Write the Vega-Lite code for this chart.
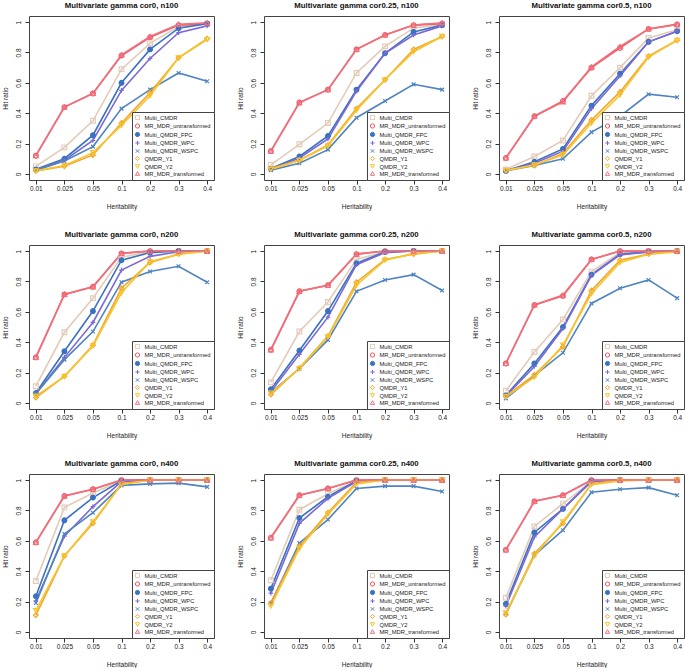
{
"$schema": "https://vega.github.io/schema/vega-lite/v6.json",
"padding": {"left": 1, "top": 1, "right": 0, "bottom": 0},
"datasets": {"d": [
{"p":1,"s":"Multi_CMDR","h":"0.01","v":0.05},{"p":1,"s":"Multi_CMDR","h":"0.025","v":0.175},{"p":1,"s":"Multi_CMDR","h":"0.05","v":0.35},{"p":1,"s":"Multi_CMDR","h":"0.1","v":0.69},{"p":1,"s":"Multi_CMDR","h":"0.2","v":0.86},{"p":1,"s":"Multi_CMDR","h":"0.3","v":0.97},{"p":1,"s":"Multi_CMDR","h":"0.4","v":0.99},
{"p":1,"s":"MR_MDR_untransformed","h":"0.01","v":0.12},{"p":1,"s":"MR_MDR_untransformed","h":"0.025","v":0.44},{"p":1,"s":"MR_MDR_untransformed","h":"0.05","v":0.53},{"p":1,"s":"MR_MDR_untransformed","h":"0.1","v":0.78},{"p":1,"s":"MR_MDR_untransformed","h":"0.2","v":0.9},{"p":1,"s":"MR_MDR_untransformed","h":"0.3","v":0.98},{"p":1,"s":"MR_MDR_untransformed","h":"0.4","v":0.99},
{"p":1,"s":"Multi_QMDR_FPC","h":"0.01","v":0.03},{"p":1,"s":"Multi_QMDR_FPC","h":"0.025","v":0.1},{"p":1,"s":"Multi_QMDR_FPC","h":"0.05","v":0.255},{"p":1,"s":"Multi_QMDR_FPC","h":"0.1","v":0.6},{"p":1,"s":"Multi_QMDR_FPC","h":"0.2","v":0.82},{"p":1,"s":"Multi_QMDR_FPC","h":"0.3","v":0.96},{"p":1,"s":"Multi_QMDR_FPC","h":"0.4","v":0.99},
{"p":1,"s":"Multi_QMDR_WPC","h":"0.01","v":0.025},{"p":1,"s":"Multi_QMDR_WPC","h":"0.025","v":0.09},{"p":1,"s":"Multi_QMDR_WPC","h":"0.05","v":0.22},{"p":1,"s":"Multi_QMDR_WPC","h":"0.1","v":0.55},{"p":1,"s":"Multi_QMDR_WPC","h":"0.2","v":0.76},{"p":1,"s":"Multi_QMDR_WPC","h":"0.3","v":0.93},{"p":1,"s":"Multi_QMDR_WPC","h":"0.4","v":0.975},
{"p":1,"s":"Multi_QMDR_WSPC","h":"0.01","v":0.025},{"p":1,"s":"Multi_QMDR_WSPC","h":"0.025","v":0.085},{"p":1,"s":"Multi_QMDR_WSPC","h":"0.05","v":0.18},{"p":1,"s":"Multi_QMDR_WSPC","h":"0.1","v":0.43},{"p":1,"s":"Multi_QMDR_WSPC","h":"0.2","v":0.555},{"p":1,"s":"Multi_QMDR_WSPC","h":"0.3","v":0.665},{"p":1,"s":"Multi_QMDR_WSPC","h":"0.4","v":0.61},
{"p":1,"s":"QMDR_Y1","h":"0.01","v":0.02},{"p":1,"s":"QMDR_Y1","h":"0.025","v":0.05},{"p":1,"s":"QMDR_Y1","h":"0.05","v":0.125},{"p":1,"s":"QMDR_Y1","h":"0.1","v":0.335},{"p":1,"s":"QMDR_Y1","h":"0.2","v":0.535},{"p":1,"s":"QMDR_Y1","h":"0.3","v":0.765},{"p":1,"s":"QMDR_Y1","h":"0.4","v":0.89},
{"p":1,"s":"QMDR_Y2","h":"0.01","v":0.02},{"p":1,"s":"QMDR_Y2","h":"0.025","v":0.055},{"p":1,"s":"QMDR_Y2","h":"0.05","v":0.14},{"p":1,"s":"QMDR_Y2","h":"0.1","v":0.32},{"p":1,"s":"QMDR_Y2","h":"0.2","v":0.515},{"p":1,"s":"QMDR_Y2","h":"0.3","v":0.765},{"p":1,"s":"QMDR_Y2","h":"0.4","v":0.885},
{"p":1,"s":"MR_MDR_transformed","h":"0.01","v":0.12},{"p":1,"s":"MR_MDR_transformed","h":"0.025","v":0.44},{"p":1,"s":"MR_MDR_transformed","h":"0.05","v":0.53},{"p":1,"s":"MR_MDR_transformed","h":"0.1","v":0.785},{"p":1,"s":"MR_MDR_transformed","h":"0.2","v":0.905},{"p":1,"s":"MR_MDR_transformed","h":"0.3","v":0.985},{"p":1,"s":"MR_MDR_transformed","h":"0.4","v":0.995},

{"p":2,"s":"Multi_CMDR","h":"0.01","v":0.06},{"p":2,"s":"Multi_CMDR","h":"0.025","v":0.195},{"p":2,"s":"Multi_CMDR","h":"0.05","v":0.335},{"p":2,"s":"Multi_CMDR","h":"0.1","v":0.665},{"p":2,"s":"Multi_CMDR","h":"0.2","v":0.84},{"p":2,"s":"Multi_CMDR","h":"0.3","v":0.96},{"p":2,"s":"Multi_CMDR","h":"0.4","v":0.985},
{"p":2,"s":"MR_MDR_untransformed","h":"0.01","v":0.15},{"p":2,"s":"MR_MDR_untransformed","h":"0.025","v":0.47},{"p":2,"s":"MR_MDR_untransformed","h":"0.05","v":0.555},{"p":2,"s":"MR_MDR_untransformed","h":"0.1","v":0.82},{"p":2,"s":"MR_MDR_untransformed","h":"0.2","v":0.915},{"p":2,"s":"MR_MDR_untransformed","h":"0.3","v":0.98},{"p":2,"s":"MR_MDR_untransformed","h":"0.4","v":0.99},
{"p":2,"s":"Multi_QMDR_FPC","h":"0.01","v":0.035},{"p":2,"s":"Multi_QMDR_FPC","h":"0.025","v":0.115},{"p":2,"s":"Multi_QMDR_FPC","h":"0.05","v":0.25},{"p":2,"s":"Multi_QMDR_FPC","h":"0.1","v":0.555},{"p":2,"s":"Multi_QMDR_FPC","h":"0.2","v":0.795},{"p":2,"s":"Multi_QMDR_FPC","h":"0.3","v":0.935},{"p":2,"s":"Multi_QMDR_FPC","h":"0.4","v":0.98},
{"p":2,"s":"Multi_QMDR_WPC","h":"0.01","v":0.03},{"p":2,"s":"Multi_QMDR_WPC","h":"0.025","v":0.105},{"p":2,"s":"Multi_QMDR_WPC","h":"0.05","v":0.23},{"p":2,"s":"Multi_QMDR_WPC","h":"0.1","v":0.545},{"p":2,"s":"Multi_QMDR_WPC","h":"0.2","v":0.795},{"p":2,"s":"Multi_QMDR_WPC","h":"0.3","v":0.915},{"p":2,"s":"Multi_QMDR_WPC","h":"0.4","v":0.975},
{"p":2,"s":"Multi_QMDR_WSPC","h":"0.01","v":0.025},{"p":2,"s":"Multi_QMDR_WSPC","h":"0.025","v":0.07},{"p":2,"s":"Multi_QMDR_WSPC","h":"0.05","v":0.16},{"p":2,"s":"Multi_QMDR_WSPC","h":"0.1","v":0.37},{"p":2,"s":"Multi_QMDR_WSPC","h":"0.2","v":0.48},{"p":2,"s":"Multi_QMDR_WSPC","h":"0.3","v":0.59},{"p":2,"s":"Multi_QMDR_WSPC","h":"0.4","v":0.555},
{"p":2,"s":"QMDR_Y1","h":"0.01","v":0.035},{"p":2,"s":"QMDR_Y1","h":"0.025","v":0.09},{"p":2,"s":"QMDR_Y1","h":"0.05","v":0.19},{"p":2,"s":"QMDR_Y1","h":"0.1","v":0.43},{"p":2,"s":"QMDR_Y1","h":"0.2","v":0.62},{"p":2,"s":"QMDR_Y1","h":"0.3","v":0.82},{"p":2,"s":"QMDR_Y1","h":"0.4","v":0.905},
{"p":2,"s":"QMDR_Y2","h":"0.01","v":0.03},{"p":2,"s":"QMDR_Y2","h":"0.025","v":0.09},{"p":2,"s":"QMDR_Y2","h":"0.05","v":0.185},{"p":2,"s":"QMDR_Y2","h":"0.1","v":0.42},{"p":2,"s":"QMDR_Y2","h":"0.2","v":0.62},{"p":2,"s":"QMDR_Y2","h":"0.3","v":0.805},{"p":2,"s":"QMDR_Y2","h":"0.4","v":0.905},
{"p":2,"s":"MR_MDR_transformed","h":"0.01","v":0.15},{"p":2,"s":"MR_MDR_transformed","h":"0.025","v":0.47},{"p":2,"s":"MR_MDR_transformed","h":"0.05","v":0.555},{"p":2,"s":"MR_MDR_transformed","h":"0.1","v":0.82},{"p":2,"s":"MR_MDR_transformed","h":"0.2","v":0.915},{"p":2,"s":"MR_MDR_transformed","h":"0.3","v":0.98},{"p":2,"s":"MR_MDR_transformed","h":"0.4","v":0.995},

{"p":3,"s":"Multi_CMDR","h":"0.01","v":0.03},{"p":3,"s":"Multi_CMDR","h":"0.025","v":0.115},{"p":3,"s":"Multi_CMDR","h":"0.05","v":0.22},{"p":3,"s":"Multi_CMDR","h":"0.1","v":0.515},{"p":3,"s":"Multi_CMDR","h":"0.2","v":0.7},{"p":3,"s":"Multi_CMDR","h":"0.3","v":0.895},{"p":3,"s":"Multi_CMDR","h":"0.4","v":0.95},
{"p":3,"s":"MR_MDR_untransformed","h":"0.01","v":0.105},{"p":3,"s":"MR_MDR_untransformed","h":"0.025","v":0.38},{"p":3,"s":"MR_MDR_untransformed","h":"0.05","v":0.48},{"p":3,"s":"MR_MDR_untransformed","h":"0.1","v":0.7},{"p":3,"s":"MR_MDR_untransformed","h":"0.2","v":0.83},{"p":3,"s":"MR_MDR_untransformed","h":"0.3","v":0.955},{"p":3,"s":"MR_MDR_untransformed","h":"0.4","v":0.985},
{"p":3,"s":"Multi_QMDR_FPC","h":"0.01","v":0.02},{"p":3,"s":"Multi_QMDR_FPC","h":"0.025","v":0.08},{"p":3,"s":"Multi_QMDR_FPC","h":"0.05","v":0.165},{"p":3,"s":"Multi_QMDR_FPC","h":"0.1","v":0.45},{"p":3,"s":"Multi_QMDR_FPC","h":"0.2","v":0.66},{"p":3,"s":"Multi_QMDR_FPC","h":"0.3","v":0.87},{"p":3,"s":"Multi_QMDR_FPC","h":"0.4","v":0.94},
{"p":3,"s":"Multi_QMDR_WPC","h":"0.01","v":0.02},{"p":3,"s":"Multi_QMDR_WPC","h":"0.025","v":0.07},{"p":3,"s":"Multi_QMDR_WPC","h":"0.05","v":0.15},{"p":3,"s":"Multi_QMDR_WPC","h":"0.1","v":0.43},{"p":3,"s":"Multi_QMDR_WPC","h":"0.2","v":0.645},{"p":3,"s":"Multi_QMDR_WPC","h":"0.3","v":0.87},{"p":3,"s":"Multi_QMDR_WPC","h":"0.4","v":0.94},
{"p":3,"s":"Multi_QMDR_WSPC","h":"0.01","v":0.02},{"p":3,"s":"Multi_QMDR_WSPC","h":"0.025","v":0.055},{"p":3,"s":"Multi_QMDR_WSPC","h":"0.05","v":0.1},{"p":3,"s":"Multi_QMDR_WSPC","h":"0.1","v":0.275},{"p":3,"s":"Multi_QMDR_WSPC","h":"0.2","v":0.38},{"p":3,"s":"Multi_QMDR_WSPC","h":"0.3","v":0.525},{"p":3,"s":"Multi_QMDR_WSPC","h":"0.4","v":0.505},
{"p":3,"s":"QMDR_Y1","h":"0.01","v":0.025},{"p":3,"s":"QMDR_Y1","h":"0.025","v":0.055},{"p":3,"s":"QMDR_Y1","h":"0.05","v":0.135},{"p":3,"s":"QMDR_Y1","h":"0.1","v":0.355},{"p":3,"s":"QMDR_Y1","h":"0.2","v":0.54},{"p":3,"s":"QMDR_Y1","h":"0.3","v":0.775},{"p":3,"s":"QMDR_Y1","h":"0.4","v":0.88},
{"p":3,"s":"QMDR_Y2","h":"0.01","v":0.02},{"p":3,"s":"QMDR_Y2","h":"0.025","v":0.06},{"p":3,"s":"QMDR_Y2","h":"0.05","v":0.125},{"p":3,"s":"QMDR_Y2","h":"0.1","v":0.335},{"p":3,"s":"QMDR_Y2","h":"0.2","v":0.52},{"p":3,"s":"QMDR_Y2","h":"0.3","v":0.77},{"p":3,"s":"QMDR_Y2","h":"0.4","v":0.88},
{"p":3,"s":"MR_MDR_transformed","h":"0.01","v":0.105},{"p":3,"s":"MR_MDR_transformed","h":"0.025","v":0.38},{"p":3,"s":"MR_MDR_transformed","h":"0.05","v":0.475},{"p":3,"s":"MR_MDR_transformed","h":"0.1","v":0.705},{"p":3,"s":"MR_MDR_transformed","h":"0.2","v":0.84},{"p":3,"s":"MR_MDR_transformed","h":"0.3","v":0.955},{"p":3,"s":"MR_MDR_transformed","h":"0.4","v":0.985},

{"p":4,"s":"Multi_CMDR","h":"0.01","v":0.11},{"p":4,"s":"Multi_CMDR","h":"0.025","v":0.465},{"p":4,"s":"Multi_CMDR","h":"0.05","v":0.69},{"p":4,"s":"Multi_CMDR","h":"0.1","v":0.96},{"p":4,"s":"Multi_CMDR","h":"0.2","v":0.995},{"p":4,"s":"Multi_CMDR","h":"0.3","v":1.0},{"p":4,"s":"Multi_CMDR","h":"0.4","v":1.0},
{"p":4,"s":"MR_MDR_untransformed","h":"0.01","v":0.3},{"p":4,"s":"MR_MDR_untransformed","h":"0.025","v":0.715},{"p":4,"s":"MR_MDR_untransformed","h":"0.05","v":0.765},{"p":4,"s":"MR_MDR_untransformed","h":"0.1","v":0.985},{"p":4,"s":"MR_MDR_untransformed","h":"0.2","v":1.0},{"p":4,"s":"MR_MDR_untransformed","h":"0.3","v":1.0},{"p":4,"s":"MR_MDR_untransformed","h":"0.4","v":1.0},
{"p":4,"s":"Multi_QMDR_FPC","h":"0.01","v":0.065},{"p":4,"s":"Multi_QMDR_FPC","h":"0.025","v":0.34},{"p":4,"s":"Multi_QMDR_FPC","h":"0.05","v":0.605},{"p":4,"s":"Multi_QMDR_FPC","h":"0.1","v":0.94},{"p":4,"s":"Multi_QMDR_FPC","h":"0.2","v":0.99},{"p":4,"s":"Multi_QMDR_FPC","h":"0.3","v":1.0},{"p":4,"s":"Multi_QMDR_FPC","h":"0.4","v":1.0},
{"p":4,"s":"Multi_QMDR_WPC","h":"0.01","v":0.06},{"p":4,"s":"Multi_QMDR_WPC","h":"0.025","v":0.3},{"p":4,"s":"Multi_QMDR_WPC","h":"0.05","v":0.53},{"p":4,"s":"Multi_QMDR_WPC","h":"0.1","v":0.875},{"p":4,"s":"Multi_QMDR_WPC","h":"0.2","v":0.965},{"p":4,"s":"Multi_QMDR_WPC","h":"0.3","v":0.995},{"p":4,"s":"Multi_QMDR_WPC","h":"0.4","v":1.0},
{"p":4,"s":"Multi_QMDR_WSPC","h":"0.01","v":0.06},{"p":4,"s":"Multi_QMDR_WSPC","h":"0.025","v":0.285},{"p":4,"s":"Multi_QMDR_WSPC","h":"0.05","v":0.47},{"p":4,"s":"Multi_QMDR_WSPC","h":"0.1","v":0.795},{"p":4,"s":"Multi_QMDR_WSPC","h":"0.2","v":0.865},{"p":4,"s":"Multi_QMDR_WSPC","h":"0.3","v":0.9},{"p":4,"s":"Multi_QMDR_WSPC","h":"0.4","v":0.795},
{"p":4,"s":"QMDR_Y1","h":"0.01","v":0.035},{"p":4,"s":"QMDR_Y1","h":"0.025","v":0.175},{"p":4,"s":"QMDR_Y1","h":"0.05","v":0.38},{"p":4,"s":"QMDR_Y1","h":"0.1","v":0.755},{"p":4,"s":"QMDR_Y1","h":"0.2","v":0.925},{"p":4,"s":"QMDR_Y1","h":"0.3","v":0.98},{"p":4,"s":"QMDR_Y1","h":"0.4","v":1.0},
{"p":4,"s":"QMDR_Y2","h":"0.01","v":0.045},{"p":4,"s":"QMDR_Y2","h":"0.025","v":0.175},{"p":4,"s":"QMDR_Y2","h":"0.05","v":0.375},{"p":4,"s":"QMDR_Y2","h":"0.1","v":0.725},{"p":4,"s":"QMDR_Y2","h":"0.2","v":0.93},{"p":4,"s":"QMDR_Y2","h":"0.3","v":0.98},{"p":4,"s":"QMDR_Y2","h":"0.4","v":1.0},
{"p":4,"s":"MR_MDR_transformed","h":"0.01","v":0.3},{"p":4,"s":"MR_MDR_transformed","h":"0.025","v":0.715},{"p":4,"s":"MR_MDR_transformed","h":"0.05","v":0.765},{"p":4,"s":"MR_MDR_transformed","h":"0.1","v":0.985},{"p":4,"s":"MR_MDR_transformed","h":"0.2","v":1.0},{"p":4,"s":"MR_MDR_transformed","h":"0.3","v":1.0},{"p":4,"s":"MR_MDR_transformed","h":"0.4","v":1.0},

{"p":5,"s":"Multi_CMDR","h":"0.01","v":0.135},{"p":5,"s":"Multi_CMDR","h":"0.025","v":0.47},{"p":5,"s":"Multi_CMDR","h":"0.05","v":0.665},{"p":5,"s":"Multi_CMDR","h":"0.1","v":0.945},{"p":5,"s":"Multi_CMDR","h":"0.2","v":0.995},{"p":5,"s":"Multi_CMDR","h":"0.3","v":1.0},{"p":5,"s":"Multi_CMDR","h":"0.4","v":1.0},
{"p":5,"s":"MR_MDR_untransformed","h":"0.01","v":0.35},{"p":5,"s":"MR_MDR_untransformed","h":"0.025","v":0.735},{"p":5,"s":"MR_MDR_untransformed","h":"0.05","v":0.775},{"p":5,"s":"MR_MDR_untransformed","h":"0.1","v":0.98},{"p":5,"s":"MR_MDR_untransformed","h":"0.2","v":1.0},{"p":5,"s":"MR_MDR_untransformed","h":"0.3","v":1.0},{"p":5,"s":"MR_MDR_untransformed","h":"0.4","v":1.0},
{"p":5,"s":"Multi_QMDR_FPC","h":"0.01","v":0.09},{"p":5,"s":"Multi_QMDR_FPC","h":"0.025","v":0.345},{"p":5,"s":"Multi_QMDR_FPC","h":"0.05","v":0.605},{"p":5,"s":"Multi_QMDR_FPC","h":"0.1","v":0.92},{"p":5,"s":"Multi_QMDR_FPC","h":"0.2","v":0.995},{"p":5,"s":"Multi_QMDR_FPC","h":"0.3","v":1.0},{"p":5,"s":"Multi_QMDR_FPC","h":"0.4","v":1.0},
{"p":5,"s":"Multi_QMDR_WPC","h":"0.01","v":0.075},{"p":5,"s":"Multi_QMDR_WPC","h":"0.025","v":0.32},{"p":5,"s":"Multi_QMDR_WPC","h":"0.05","v":0.565},{"p":5,"s":"Multi_QMDR_WPC","h":"0.1","v":0.91},{"p":5,"s":"Multi_QMDR_WPC","h":"0.2","v":0.99},{"p":5,"s":"Multi_QMDR_WPC","h":"0.3","v":1.0},{"p":5,"s":"Multi_QMDR_WPC","h":"0.4","v":1.0},
{"p":5,"s":"Multi_QMDR_WSPC","h":"0.01","v":0.07},{"p":5,"s":"Multi_QMDR_WSPC","h":"0.025","v":0.225},{"p":5,"s":"Multi_QMDR_WSPC","h":"0.05","v":0.415},{"p":5,"s":"Multi_QMDR_WSPC","h":"0.1","v":0.735},{"p":5,"s":"Multi_QMDR_WSPC","h":"0.2","v":0.81},{"p":5,"s":"Multi_QMDR_WSPC","h":"0.3","v":0.845},{"p":5,"s":"Multi_QMDR_WSPC","h":"0.4","v":0.74},
{"p":5,"s":"QMDR_Y1","h":"0.01","v":0.055},{"p":5,"s":"QMDR_Y1","h":"0.025","v":0.23},{"p":5,"s":"QMDR_Y1","h":"0.05","v":0.44},{"p":5,"s":"QMDR_Y1","h":"0.1","v":0.795},{"p":5,"s":"QMDR_Y1","h":"0.2","v":0.945},{"p":5,"s":"QMDR_Y1","h":"0.3","v":0.98},{"p":5,"s":"QMDR_Y1","h":"0.4","v":1.0},
{"p":5,"s":"QMDR_Y2","h":"0.01","v":0.065},{"p":5,"s":"QMDR_Y2","h":"0.025","v":0.225},{"p":5,"s":"QMDR_Y2","h":"0.05","v":0.435},{"p":5,"s":"QMDR_Y2","h":"0.1","v":0.775},{"p":5,"s":"QMDR_Y2","h":"0.2","v":0.94},{"p":5,"s":"QMDR_Y2","h":"0.3","v":0.985},{"p":5,"s":"QMDR_Y2","h":"0.4","v":1.0},
{"p":5,"s":"MR_MDR_transformed","h":"0.01","v":0.35},{"p":5,"s":"MR_MDR_transformed","h":"0.025","v":0.735},{"p":5,"s":"MR_MDR_transformed","h":"0.05","v":0.775},{"p":5,"s":"MR_MDR_transformed","h":"0.1","v":0.98},{"p":5,"s":"MR_MDR_transformed","h":"0.2","v":1.0},{"p":5,"s":"MR_MDR_transformed","h":"0.3","v":1.0},{"p":5,"s":"MR_MDR_transformed","h":"0.4","v":1.0},

{"p":6,"s":"Multi_CMDR","h":"0.01","v":0.08},{"p":6,"s":"Multi_CMDR","h":"0.025","v":0.335},{"p":6,"s":"Multi_CMDR","h":"0.05","v":0.55},{"p":6,"s":"Multi_CMDR","h":"0.1","v":0.865},{"p":6,"s":"Multi_CMDR","h":"0.2","v":0.99},{"p":6,"s":"Multi_CMDR","h":"0.3","v":1.0},{"p":6,"s":"Multi_CMDR","h":"0.4","v":1.0},
{"p":6,"s":"MR_MDR_untransformed","h":"0.01","v":0.26},{"p":6,"s":"MR_MDR_untransformed","h":"0.025","v":0.645},{"p":6,"s":"MR_MDR_untransformed","h":"0.05","v":0.705},{"p":6,"s":"MR_MDR_untransformed","h":"0.1","v":0.945},{"p":6,"s":"MR_MDR_untransformed","h":"0.2","v":1.0},{"p":6,"s":"MR_MDR_untransformed","h":"0.3","v":1.0},{"p":6,"s":"MR_MDR_untransformed","h":"0.4","v":1.0},
{"p":6,"s":"Multi_QMDR_FPC","h":"0.01","v":0.05},{"p":6,"s":"Multi_QMDR_FPC","h":"0.025","v":0.26},{"p":6,"s":"Multi_QMDR_FPC","h":"0.05","v":0.5},{"p":6,"s":"Multi_QMDR_FPC","h":"0.1","v":0.845},{"p":6,"s":"Multi_QMDR_FPC","h":"0.2","v":0.98},{"p":6,"s":"Multi_QMDR_FPC","h":"0.3","v":0.995},{"p":6,"s":"Multi_QMDR_FPC","h":"0.4","v":1.0},
{"p":6,"s":"Multi_QMDR_WPC","h":"0.01","v":0.045},{"p":6,"s":"Multi_QMDR_WPC","h":"0.025","v":0.24},{"p":6,"s":"Multi_QMDR_WPC","h":"0.05","v":0.49},{"p":6,"s":"Multi_QMDR_WPC","h":"0.1","v":0.84},{"p":6,"s":"Multi_QMDR_WPC","h":"0.2","v":0.975},{"p":6,"s":"Multi_QMDR_WPC","h":"0.3","v":0.995},{"p":6,"s":"Multi_QMDR_WPC","h":"0.4","v":1.0},
{"p":6,"s":"Multi_QMDR_WSPC","h":"0.01","v":0.03},{"p":6,"s":"Multi_QMDR_WSPC","h":"0.025","v":0.18},{"p":6,"s":"Multi_QMDR_WSPC","h":"0.05","v":0.33},{"p":6,"s":"Multi_QMDR_WSPC","h":"0.1","v":0.655},{"p":6,"s":"Multi_QMDR_WSPC","h":"0.2","v":0.755},{"p":6,"s":"Multi_QMDR_WSPC","h":"0.3","v":0.81},{"p":6,"s":"Multi_QMDR_WSPC","h":"0.4","v":0.69},
{"p":6,"s":"QMDR_Y1","h":"0.01","v":0.045},{"p":6,"s":"QMDR_Y1","h":"0.025","v":0.185},{"p":6,"s":"QMDR_Y1","h":"0.05","v":0.37},{"p":6,"s":"QMDR_Y1","h":"0.1","v":0.74},{"p":6,"s":"QMDR_Y1","h":"0.2","v":0.94},{"p":6,"s":"QMDR_Y1","h":"0.3","v":0.98},{"p":6,"s":"QMDR_Y1","h":"0.4","v":1.0},
{"p":6,"s":"QMDR_Y2","h":"0.01","v":0.04},{"p":6,"s":"QMDR_Y2","h":"0.025","v":0.17},{"p":6,"s":"QMDR_Y2","h":"0.05","v":0.38},{"p":6,"s":"QMDR_Y2","h":"0.1","v":0.72},{"p":6,"s":"QMDR_Y2","h":"0.2","v":0.925},{"p":6,"s":"QMDR_Y2","h":"0.3","v":0.98},{"p":6,"s":"QMDR_Y2","h":"0.4","v":0.995},
{"p":6,"s":"MR_MDR_transformed","h":"0.01","v":0.26},{"p":6,"s":"MR_MDR_transformed","h":"0.025","v":0.645},{"p":6,"s":"MR_MDR_transformed","h":"0.05","v":0.71},{"p":6,"s":"MR_MDR_transformed","h":"0.1","v":0.945},{"p":6,"s":"MR_MDR_transformed","h":"0.2","v":1.0},{"p":6,"s":"MR_MDR_transformed","h":"0.3","v":1.0},{"p":6,"s":"MR_MDR_transformed","h":"0.4","v":1.0},

{"p":7,"s":"Multi_CMDR","h":"0.01","v":0.335},{"p":7,"s":"Multi_CMDR","h":"0.025","v":0.82},{"p":7,"s":"Multi_CMDR","h":"0.05","v":0.915},{"p":7,"s":"Multi_CMDR","h":"0.1","v":0.995},{"p":7,"s":"Multi_CMDR","h":"0.2","v":1.0},{"p":7,"s":"Multi_CMDR","h":"0.3","v":1.0},{"p":7,"s":"Multi_CMDR","h":"0.4","v":1.0},
{"p":7,"s":"MR_MDR_untransformed","h":"0.01","v":0.59},{"p":7,"s":"MR_MDR_untransformed","h":"0.025","v":0.895},{"p":7,"s":"MR_MDR_untransformed","h":"0.05","v":0.94},{"p":7,"s":"MR_MDR_untransformed","h":"0.1","v":1.0},{"p":7,"s":"MR_MDR_untransformed","h":"0.2","v":1.0},{"p":7,"s":"MR_MDR_untransformed","h":"0.3","v":1.0},{"p":7,"s":"MR_MDR_untransformed","h":"0.4","v":1.0},
{"p":7,"s":"Multi_QMDR_FPC","h":"0.01","v":0.235},{"p":7,"s":"Multi_QMDR_FPC","h":"0.025","v":0.735},{"p":7,"s":"Multi_QMDR_FPC","h":"0.05","v":0.885},{"p":7,"s":"Multi_QMDR_FPC","h":"0.1","v":0.995},{"p":7,"s":"Multi_QMDR_FPC","h":"0.2","v":1.0},{"p":7,"s":"Multi_QMDR_FPC","h":"0.3","v":1.0},{"p":7,"s":"Multi_QMDR_FPC","h":"0.4","v":1.0},
{"p":7,"s":"Multi_QMDR_WPC","h":"0.01","v":0.205},{"p":7,"s":"Multi_QMDR_WPC","h":"0.025","v":0.63},{"p":7,"s":"Multi_QMDR_WPC","h":"0.05","v":0.825},{"p":7,"s":"Multi_QMDR_WPC","h":"0.1","v":0.99},{"p":7,"s":"Multi_QMDR_WPC","h":"0.2","v":1.0},{"p":7,"s":"Multi_QMDR_WPC","h":"0.3","v":1.0},{"p":7,"s":"Multi_QMDR_WPC","h":"0.4","v":1.0},
{"p":7,"s":"Multi_QMDR_WSPC","h":"0.01","v":0.19},{"p":7,"s":"Multi_QMDR_WSPC","h":"0.025","v":0.645},{"p":7,"s":"Multi_QMDR_WSPC","h":"0.05","v":0.785},{"p":7,"s":"Multi_QMDR_WSPC","h":"0.1","v":0.965},{"p":7,"s":"Multi_QMDR_WSPC","h":"0.2","v":0.975},{"p":7,"s":"Multi_QMDR_WSPC","h":"0.3","v":0.98},{"p":7,"s":"Multi_QMDR_WSPC","h":"0.4","v":0.955},
{"p":7,"s":"QMDR_Y1","h":"0.01","v":0.11},{"p":7,"s":"QMDR_Y1","h":"0.025","v":0.5},{"p":7,"s":"QMDR_Y1","h":"0.05","v":0.715},{"p":7,"s":"QMDR_Y1","h":"0.1","v":0.975},{"p":7,"s":"QMDR_Y1","h":"0.2","v":1.0},{"p":7,"s":"QMDR_Y1","h":"0.3","v":1.0},{"p":7,"s":"QMDR_Y1","h":"0.4","v":1.0},
{"p":7,"s":"QMDR_Y2","h":"0.01","v":0.14},{"p":7,"s":"QMDR_Y2","h":"0.025","v":0.5},{"p":7,"s":"QMDR_Y2","h":"0.05","v":0.725},{"p":7,"s":"QMDR_Y2","h":"0.1","v":0.97},{"p":7,"s":"QMDR_Y2","h":"0.2","v":1.0},{"p":7,"s":"QMDR_Y2","h":"0.3","v":1.0},{"p":7,"s":"QMDR_Y2","h":"0.4","v":1.0},
{"p":7,"s":"MR_MDR_transformed","h":"0.01","v":0.59},{"p":7,"s":"MR_MDR_transformed","h":"0.025","v":0.895},{"p":7,"s":"MR_MDR_transformed","h":"0.05","v":0.94},{"p":7,"s":"MR_MDR_transformed","h":"0.1","v":1.0},{"p":7,"s":"MR_MDR_transformed","h":"0.2","v":1.0},{"p":7,"s":"MR_MDR_transformed","h":"0.3","v":1.0},{"p":7,"s":"MR_MDR_transformed","h":"0.4","v":1.0},

{"p":8,"s":"Multi_CMDR","h":"0.01","v":0.34},{"p":8,"s":"Multi_CMDR","h":"0.025","v":0.805},{"p":8,"s":"Multi_CMDR","h":"0.05","v":0.91},{"p":8,"s":"Multi_CMDR","h":"0.1","v":0.995},{"p":8,"s":"Multi_CMDR","h":"0.2","v":1.0},{"p":8,"s":"Multi_CMDR","h":"0.3","v":1.0},{"p":8,"s":"Multi_CMDR","h":"0.4","v":1.0},
{"p":8,"s":"MR_MDR_untransformed","h":"0.01","v":0.62},{"p":8,"s":"MR_MDR_untransformed","h":"0.025","v":0.9},{"p":8,"s":"MR_MDR_untransformed","h":"0.05","v":0.945},{"p":8,"s":"MR_MDR_untransformed","h":"0.1","v":1.0},{"p":8,"s":"MR_MDR_untransformed","h":"0.2","v":1.0},{"p":8,"s":"MR_MDR_untransformed","h":"0.3","v":1.0},{"p":8,"s":"MR_MDR_untransformed","h":"0.4","v":1.0},
{"p":8,"s":"Multi_QMDR_FPC","h":"0.01","v":0.285},{"p":8,"s":"Multi_QMDR_FPC","h":"0.025","v":0.75},{"p":8,"s":"Multi_QMDR_FPC","h":"0.05","v":0.89},{"p":8,"s":"Multi_QMDR_FPC","h":"0.1","v":0.995},{"p":8,"s":"Multi_QMDR_FPC","h":"0.2","v":1.0},{"p":8,"s":"Multi_QMDR_FPC","h":"0.3","v":1.0},{"p":8,"s":"Multi_QMDR_FPC","h":"0.4","v":1.0},
{"p":8,"s":"Multi_QMDR_WPC","h":"0.01","v":0.255},{"p":8,"s":"Multi_QMDR_WPC","h":"0.025","v":0.715},{"p":8,"s":"Multi_QMDR_WPC","h":"0.05","v":0.88},{"p":8,"s":"Multi_QMDR_WPC","h":"0.1","v":0.99},{"p":8,"s":"Multi_QMDR_WPC","h":"0.2","v":1.0},{"p":8,"s":"Multi_QMDR_WPC","h":"0.3","v":1.0},{"p":8,"s":"Multi_QMDR_WPC","h":"0.4","v":1.0},
{"p":8,"s":"Multi_QMDR_WSPC","h":"0.01","v":0.19},{"p":8,"s":"Multi_QMDR_WSPC","h":"0.025","v":0.585},{"p":8,"s":"Multi_QMDR_WSPC","h":"0.05","v":0.74},{"p":8,"s":"Multi_QMDR_WSPC","h":"0.1","v":0.945},{"p":8,"s":"Multi_QMDR_WSPC","h":"0.2","v":0.96},{"p":8,"s":"Multi_QMDR_WSPC","h":"0.3","v":0.96},{"p":8,"s":"Multi_QMDR_WSPC","h":"0.4","v":0.925},
{"p":8,"s":"QMDR_Y1","h":"0.01","v":0.19},{"p":8,"s":"QMDR_Y1","h":"0.025","v":0.565},{"p":8,"s":"QMDR_Y1","h":"0.05","v":0.785},{"p":8,"s":"QMDR_Y1","h":"0.1","v":0.985},{"p":8,"s":"QMDR_Y1","h":"0.2","v":1.0},{"p":8,"s":"QMDR_Y1","h":"0.3","v":1.0},{"p":8,"s":"QMDR_Y1","h":"0.4","v":1.0},
{"p":8,"s":"QMDR_Y2","h":"0.01","v":0.17},{"p":8,"s":"QMDR_Y2","h":"0.025","v":0.55},{"p":8,"s":"QMDR_Y2","h":"0.05","v":0.775},{"p":8,"s":"QMDR_Y2","h":"0.1","v":0.975},{"p":8,"s":"QMDR_Y2","h":"0.2","v":1.0},{"p":8,"s":"QMDR_Y2","h":"0.3","v":1.0},{"p":8,"s":"QMDR_Y2","h":"0.4","v":1.0},
{"p":8,"s":"MR_MDR_transformed","h":"0.01","v":0.62},{"p":8,"s":"MR_MDR_transformed","h":"0.025","v":0.9},{"p":8,"s":"MR_MDR_transformed","h":"0.05","v":0.945},{"p":8,"s":"MR_MDR_transformed","h":"0.1","v":1.0},{"p":8,"s":"MR_MDR_transformed","h":"0.2","v":1.0},{"p":8,"s":"MR_MDR_transformed","h":"0.3","v":1.0},{"p":8,"s":"MR_MDR_transformed","h":"0.4","v":1.0},

{"p":9,"s":"Multi_CMDR","h":"0.01","v":0.225},{"p":9,"s":"Multi_CMDR","h":"0.025","v":0.695},{"p":9,"s":"Multi_CMDR","h":"0.05","v":0.845},{"p":9,"s":"Multi_CMDR","h":"0.1","v":0.99},{"p":9,"s":"Multi_CMDR","h":"0.2","v":1.0},{"p":9,"s":"Multi_CMDR","h":"0.3","v":1.0},{"p":9,"s":"Multi_CMDR","h":"0.4","v":1.0},
{"p":9,"s":"MR_MDR_untransformed","h":"0.01","v":0.54},{"p":9,"s":"MR_MDR_untransformed","h":"0.025","v":0.86},{"p":9,"s":"MR_MDR_untransformed","h":"0.05","v":0.9},{"p":9,"s":"MR_MDR_untransformed","h":"0.1","v":1.0},{"p":9,"s":"MR_MDR_untransformed","h":"0.2","v":1.0},{"p":9,"s":"MR_MDR_untransformed","h":"0.3","v":1.0},{"p":9,"s":"MR_MDR_untransformed","h":"0.4","v":1.0},
{"p":9,"s":"Multi_QMDR_FPC","h":"0.01","v":0.185},{"p":9,"s":"Multi_QMDR_FPC","h":"0.025","v":0.655},{"p":9,"s":"Multi_QMDR_FPC","h":"0.05","v":0.81},{"p":9,"s":"Multi_QMDR_FPC","h":"0.1","v":0.995},{"p":9,"s":"Multi_QMDR_FPC","h":"0.2","v":1.0},{"p":9,"s":"Multi_QMDR_FPC","h":"0.3","v":1.0},{"p":9,"s":"Multi_QMDR_FPC","h":"0.4","v":1.0},
{"p":9,"s":"Multi_QMDR_WPC","h":"0.01","v":0.17},{"p":9,"s":"Multi_QMDR_WPC","h":"0.025","v":0.625},{"p":9,"s":"Multi_QMDR_WPC","h":"0.05","v":0.81},{"p":9,"s":"Multi_QMDR_WPC","h":"0.1","v":0.99},{"p":9,"s":"Multi_QMDR_WPC","h":"0.2","v":1.0},{"p":9,"s":"Multi_QMDR_WPC","h":"0.3","v":1.0},{"p":9,"s":"Multi_QMDR_WPC","h":"0.4","v":1.0},
{"p":9,"s":"Multi_QMDR_WSPC","h":"0.01","v":0.12},{"p":9,"s":"Multi_QMDR_WSPC","h":"0.025","v":0.505},{"p":9,"s":"Multi_QMDR_WSPC","h":"0.05","v":0.67},{"p":9,"s":"Multi_QMDR_WSPC","h":"0.1","v":0.92},{"p":9,"s":"Multi_QMDR_WSPC","h":"0.2","v":0.94},{"p":9,"s":"Multi_QMDR_WSPC","h":"0.3","v":0.95},{"p":9,"s":"Multi_QMDR_WSPC","h":"0.4","v":0.9},
{"p":9,"s":"QMDR_Y1","h":"0.01","v":0.115},{"p":9,"s":"QMDR_Y1","h":"0.025","v":0.515},{"p":9,"s":"QMDR_Y1","h":"0.05","v":0.715},{"p":9,"s":"QMDR_Y1","h":"0.1","v":0.975},{"p":9,"s":"QMDR_Y1","h":"0.2","v":1.0},{"p":9,"s":"QMDR_Y1","h":"0.3","v":1.0},{"p":9,"s":"QMDR_Y1","h":"0.4","v":1.0},
{"p":9,"s":"QMDR_Y2","h":"0.01","v":0.125},{"p":9,"s":"QMDR_Y2","h":"0.025","v":0.5},{"p":9,"s":"QMDR_Y2","h":"0.05","v":0.725},{"p":9,"s":"QMDR_Y2","h":"0.1","v":0.97},{"p":9,"s":"QMDR_Y2","h":"0.2","v":0.995},{"p":9,"s":"QMDR_Y2","h":"0.3","v":1.0},{"p":9,"s":"QMDR_Y2","h":"0.4","v":1.0},
{"p":9,"s":"MR_MDR_transformed","h":"0.01","v":0.54},{"p":9,"s":"MR_MDR_transformed","h":"0.025","v":0.86},{"p":9,"s":"MR_MDR_transformed","h":"0.05","v":0.9},{"p":9,"s":"MR_MDR_transformed","h":"0.1","v":1.0},{"p":9,"s":"MR_MDR_transformed","h":"0.2","v":1.0},{"p":9,"s":"MR_MDR_transformed","h":"0.3","v":1.0},{"p":9,"s":"MR_MDR_transformed","h":"0.4","v":1.0}
]},
"data": {"name": "d"},
"columns": 3,
"spacing": {"row": 20, "column": 21},
"resolve": {"legend": {"color": "independent", "shape": "independent", "fill": "independent"}},
"concat": [
{"title": "Multivariate gamma cor0, n100", "width": 185, "height": 164, "transform": [{"filter": "datum.p == 1"}],
 "encoding": {
  "x": {"field": "h", "type": "ordinal", "sort": null, "scale": {"type": "point", "padding": 0.24}, "axis": {"title": "Heritability", "labelAngle": 0}},
  "y": {"field": "v", "type": "quantitative", "scale": {"domain": [-0.04, 1.04], "nice": false, "zero": false}, "axis": {"title": "Hit ratio", "values": [0, 0.2, 0.4, 0.6, 0.8, 1], "format": "~g", "labelAngle": -90}}},
 "layer": [
  {"mark": {"type": "line", "strokeWidth": 1.6}, "encoding": {"stroke": {"field": "s", "type": "nominal", "legend": null, "scale": {"domain": ["Multi_CMDR","MR_MDR_untransformed","Multi_QMDR_FPC","Multi_QMDR_WPC","Multi_QMDR_WSPC","QMDR_Y1","QMDR_Y2","MR_MDR_transformed"], "range": ["#e3cbb8","#ee5560","#3a72c2","#7b6ad6","#4f84c0","#f4a52a","#f7c52e","#f2707c"]}}}},
  {"mark": {"type": "point", "filled": false, "size": 22, "strokeWidth": 1.2, "opacity": 1}, "encoding": {
    "color": {"field": "s", "type": "nominal", "title": null, "legend": {"strokeColor": "#444", "fillColor": "#ffffff"}, "scale": {"domain": ["Multi_CMDR","MR_MDR_untransformed","Multi_QMDR_FPC","Multi_QMDR_WPC","Multi_QMDR_WSPC","QMDR_Y1","QMDR_Y2","MR_MDR_transformed"], "range": ["#e3cbb8","#ee5560","#3a72c2","#7b6ad6","#4f84c0","#f4a52a","#f7c52e","#f2707c"]}},
    "shape": {"field": "s", "type": "nominal", "title": null, "scale": {"domain": ["Multi_CMDR","MR_MDR_untransformed","Multi_QMDR_FPC","Multi_QMDR_WPC","Multi_QMDR_WSPC","QMDR_Y1","QMDR_Y2","MR_MDR_transformed"], "range": ["square","circle","circle","M-1,0L1,0M0,-1L0,1","M-0.8,-0.8L0.8,0.8M-0.8,0.8L0.8,-0.8","diamond","triangle-down","triangle-up"]}},
    "fill": {"field": "s", "type": "nominal", "title": null, "scale": {"domain": ["Multi_CMDR","MR_MDR_untransformed","Multi_QMDR_FPC","Multi_QMDR_WPC","Multi_QMDR_WSPC","QMDR_Y1","QMDR_Y2","MR_MDR_transformed"], "range": ["transparent","transparent","#3a72c2","transparent","transparent","transparent","transparent","transparent"]}}}}
 ]},
{"title": "Multivariate gamma cor0.25, n100", "width": 185, "height": 164, "transform": [{"filter": "datum.p == 2"}],
 "encoding": {
  "x": {"field": "h", "type": "ordinal", "sort": null, "scale": {"type": "point", "padding": 0.24}, "axis": {"title": "Heritability", "labelAngle": 0}},
  "y": {"field": "v", "type": "quantitative", "scale": {"domain": [-0.04, 1.04], "nice": false, "zero": false}, "axis": {"title": "Hit ratio", "values": [0, 0.2, 0.4, 0.6, 0.8, 1], "format": "~g", "labelAngle": -90}}},
 "layer": [
  {"mark": {"type": "line", "strokeWidth": 1.6}, "encoding": {"stroke": {"field": "s", "type": "nominal", "legend": null, "scale": {"domain": ["Multi_CMDR","MR_MDR_untransformed","Multi_QMDR_FPC","Multi_QMDR_WPC","Multi_QMDR_WSPC","QMDR_Y1","QMDR_Y2","MR_MDR_transformed"], "range": ["#e3cbb8","#ee5560","#3a72c2","#7b6ad6","#4f84c0","#f4a52a","#f7c52e","#f2707c"]}}}},
  {"mark": {"type": "point", "filled": false, "size": 22, "strokeWidth": 1.2, "opacity": 1}, "encoding": {
    "color": {"field": "s", "type": "nominal", "title": null, "legend": {"strokeColor": "#444", "fillColor": "#ffffff"}, "scale": {"domain": ["Multi_CMDR","MR_MDR_untransformed","Multi_QMDR_FPC","Multi_QMDR_WPC","Multi_QMDR_WSPC","QMDR_Y1","QMDR_Y2","MR_MDR_transformed"], "range": ["#e3cbb8","#ee5560","#3a72c2","#7b6ad6","#4f84c0","#f4a52a","#f7c52e","#f2707c"]}},
    "shape": {"field": "s", "type": "nominal", "title": null, "scale": {"domain": ["Multi_CMDR","MR_MDR_untransformed","Multi_QMDR_FPC","Multi_QMDR_WPC","Multi_QMDR_WSPC","QMDR_Y1","QMDR_Y2","MR_MDR_transformed"], "range": ["square","circle","circle","M-1,0L1,0M0,-1L0,1","M-0.8,-0.8L0.8,0.8M-0.8,0.8L0.8,-0.8","diamond","triangle-down","triangle-up"]}},
    "fill": {"field": "s", "type": "nominal", "title": null, "scale": {"domain": ["Multi_CMDR","MR_MDR_untransformed","Multi_QMDR_FPC","Multi_QMDR_WPC","Multi_QMDR_WSPC","QMDR_Y1","QMDR_Y2","MR_MDR_transformed"], "range": ["transparent","transparent","#3a72c2","transparent","transparent","transparent","transparent","transparent"]}}}}
 ]},
{"title": "Multivariate gamma cor0.5, n100", "width": 185, "height": 164, "transform": [{"filter": "datum.p == 3"}],
 "encoding": {
  "x": {"field": "h", "type": "ordinal", "sort": null, "scale": {"type": "point", "padding": 0.24}, "axis": {"title": "Heritability", "labelAngle": 0}},
  "y": {"field": "v", "type": "quantitative", "scale": {"domain": [-0.04, 1.04], "nice": false, "zero": false}, "axis": {"title": "Hit ratio", "values": [0, 0.2, 0.4, 0.6, 0.8, 1], "format": "~g", "labelAngle": -90}}},
 "layer": [
  {"mark": {"type": "line", "strokeWidth": 1.6}, "encoding": {"stroke": {"field": "s", "type": "nominal", "legend": null, "scale": {"domain": ["Multi_CMDR","MR_MDR_untransformed","Multi_QMDR_FPC","Multi_QMDR_WPC","Multi_QMDR_WSPC","QMDR_Y1","QMDR_Y2","MR_MDR_transformed"], "range": ["#e3cbb8","#ee5560","#3a72c2","#7b6ad6","#4f84c0","#f4a52a","#f7c52e","#f2707c"]}}}},
  {"mark": {"type": "point", "filled": false, "size": 22, "strokeWidth": 1.2, "opacity": 1}, "encoding": {
    "color": {"field": "s", "type": "nominal", "title": null, "legend": {"strokeColor": "#444", "fillColor": "#ffffff"}, "scale": {"domain": ["Multi_CMDR","MR_MDR_untransformed","Multi_QMDR_FPC","Multi_QMDR_WPC","Multi_QMDR_WSPC","QMDR_Y1","QMDR_Y2","MR_MDR_transformed"], "range": ["#e3cbb8","#ee5560","#3a72c2","#7b6ad6","#4f84c0","#f4a52a","#f7c52e","#f2707c"]}},
    "shape": {"field": "s", "type": "nominal", "title": null, "scale": {"domain": ["Multi_CMDR","MR_MDR_untransformed","Multi_QMDR_FPC","Multi_QMDR_WPC","Multi_QMDR_WSPC","QMDR_Y1","QMDR_Y2","MR_MDR_transformed"], "range": ["square","circle","circle","M-1,0L1,0M0,-1L0,1","M-0.8,-0.8L0.8,0.8M-0.8,0.8L0.8,-0.8","diamond","triangle-down","triangle-up"]}},
    "fill": {"field": "s", "type": "nominal", "title": null, "scale": {"domain": ["Multi_CMDR","MR_MDR_untransformed","Multi_QMDR_FPC","Multi_QMDR_WPC","Multi_QMDR_WSPC","QMDR_Y1","QMDR_Y2","MR_MDR_transformed"], "range": ["transparent","transparent","#3a72c2","transparent","transparent","transparent","transparent","transparent"]}}}}
 ]},
{"title": "Multivariate gamma cor0, n200", "width": 185, "height": 164, "transform": [{"filter": "datum.p == 4"}],
 "encoding": {
  "x": {"field": "h", "type": "ordinal", "sort": null, "scale": {"type": "point", "padding": 0.24}, "axis": {"title": "Heritability", "labelAngle": 0}},
  "y": {"field": "v", "type": "quantitative", "scale": {"domain": [-0.04, 1.04], "nice": false, "zero": false}, "axis": {"title": "Hit ratio", "values": [0, 0.2, 0.4, 0.6, 0.8, 1], "format": "~g", "labelAngle": -90}}},
 "layer": [
  {"mark": {"type": "line", "strokeWidth": 1.6}, "encoding": {"stroke": {"field": "s", "type": "nominal", "legend": null, "scale": {"domain": ["Multi_CMDR","MR_MDR_untransformed","Multi_QMDR_FPC","Multi_QMDR_WPC","Multi_QMDR_WSPC","QMDR_Y1","QMDR_Y2","MR_MDR_transformed"], "range": ["#e3cbb8","#ee5560","#3a72c2","#7b6ad6","#4f84c0","#f4a52a","#f7c52e","#f2707c"]}}}},
  {"mark": {"type": "point", "filled": false, "size": 22, "strokeWidth": 1.2, "opacity": 1}, "encoding": {
    "color": {"field": "s", "type": "nominal", "title": null, "legend": {"strokeColor": "#444", "fillColor": "#ffffff"}, "scale": {"domain": ["Multi_CMDR","MR_MDR_untransformed","Multi_QMDR_FPC","Multi_QMDR_WPC","Multi_QMDR_WSPC","QMDR_Y1","QMDR_Y2","MR_MDR_transformed"], "range": ["#e3cbb8","#ee5560","#3a72c2","#7b6ad6","#4f84c0","#f4a52a","#f7c52e","#f2707c"]}},
    "shape": {"field": "s", "type": "nominal", "title": null, "scale": {"domain": ["Multi_CMDR","MR_MDR_untransformed","Multi_QMDR_FPC","Multi_QMDR_WPC","Multi_QMDR_WSPC","QMDR_Y1","QMDR_Y2","MR_MDR_transformed"], "range": ["square","circle","circle","M-1,0L1,0M0,-1L0,1","M-0.8,-0.8L0.8,0.8M-0.8,0.8L0.8,-0.8","diamond","triangle-down","triangle-up"]}},
    "fill": {"field": "s", "type": "nominal", "title": null, "scale": {"domain": ["Multi_CMDR","MR_MDR_untransformed","Multi_QMDR_FPC","Multi_QMDR_WPC","Multi_QMDR_WSPC","QMDR_Y1","QMDR_Y2","MR_MDR_transformed"], "range": ["transparent","transparent","#3a72c2","transparent","transparent","transparent","transparent","transparent"]}}}}
 ]},
{"title": "Multivariate gamma cor0.25, n200", "width": 185, "height": 164, "transform": [{"filter": "datum.p == 5"}],
 "encoding": {
  "x": {"field": "h", "type": "ordinal", "sort": null, "scale": {"type": "point", "padding": 0.24}, "axis": {"title": "Heritability", "labelAngle": 0}},
  "y": {"field": "v", "type": "quantitative", "scale": {"domain": [-0.04, 1.04], "nice": false, "zero": false}, "axis": {"title": "Hit ratio", "values": [0, 0.2, 0.4, 0.6, 0.8, 1], "format": "~g", "labelAngle": -90}}},
 "layer": [
  {"mark": {"type": "line", "strokeWidth": 1.6}, "encoding": {"stroke": {"field": "s", "type": "nominal", "legend": null, "scale": {"domain": ["Multi_CMDR","MR_MDR_untransformed","Multi_QMDR_FPC","Multi_QMDR_WPC","Multi_QMDR_WSPC","QMDR_Y1","QMDR_Y2","MR_MDR_transformed"], "range": ["#e3cbb8","#ee5560","#3a72c2","#7b6ad6","#4f84c0","#f4a52a","#f7c52e","#f2707c"]}}}},
  {"mark": {"type": "point", "filled": false, "size": 22, "strokeWidth": 1.2, "opacity": 1}, "encoding": {
    "color": {"field": "s", "type": "nominal", "title": null, "legend": {"strokeColor": "#444", "fillColor": "#ffffff"}, "scale": {"domain": ["Multi_CMDR","MR_MDR_untransformed","Multi_QMDR_FPC","Multi_QMDR_WPC","Multi_QMDR_WSPC","QMDR_Y1","QMDR_Y2","MR_MDR_transformed"], "range": ["#e3cbb8","#ee5560","#3a72c2","#7b6ad6","#4f84c0","#f4a52a","#f7c52e","#f2707c"]}},
    "shape": {"field": "s", "type": "nominal", "title": null, "scale": {"domain": ["Multi_CMDR","MR_MDR_untransformed","Multi_QMDR_FPC","Multi_QMDR_WPC","Multi_QMDR_WSPC","QMDR_Y1","QMDR_Y2","MR_MDR_transformed"], "range": ["square","circle","circle","M-1,0L1,0M0,-1L0,1","M-0.8,-0.8L0.8,0.8M-0.8,0.8L0.8,-0.8","diamond","triangle-down","triangle-up"]}},
    "fill": {"field": "s", "type": "nominal", "title": null, "scale": {"domain": ["Multi_CMDR","MR_MDR_untransformed","Multi_QMDR_FPC","Multi_QMDR_WPC","Multi_QMDR_WSPC","QMDR_Y1","QMDR_Y2","MR_MDR_transformed"], "range": ["transparent","transparent","#3a72c2","transparent","transparent","transparent","transparent","transparent"]}}}}
 ]},
{"title": "Multivariate gamma cor0.5, n200", "width": 185, "height": 164, "transform": [{"filter": "datum.p == 6"}],
 "encoding": {
  "x": {"field": "h", "type": "ordinal", "sort": null, "scale": {"type": "point", "padding": 0.24}, "axis": {"title": "Heritability", "labelAngle": 0}},
  "y": {"field": "v", "type": "quantitative", "scale": {"domain": [-0.04, 1.04], "nice": false, "zero": false}, "axis": {"title": "Hit ratio", "values": [0, 0.2, 0.4, 0.6, 0.8, 1], "format": "~g", "labelAngle": -90}}},
 "layer": [
  {"mark": {"type": "line", "strokeWidth": 1.6}, "encoding": {"stroke": {"field": "s", "type": "nominal", "legend": null, "scale": {"domain": ["Multi_CMDR","MR_MDR_untransformed","Multi_QMDR_FPC","Multi_QMDR_WPC","Multi_QMDR_WSPC","QMDR_Y1","QMDR_Y2","MR_MDR_transformed"], "range": ["#e3cbb8","#ee5560","#3a72c2","#7b6ad6","#4f84c0","#f4a52a","#f7c52e","#f2707c"]}}}},
  {"mark": {"type": "point", "filled": false, "size": 22, "strokeWidth": 1.2, "opacity": 1}, "encoding": {
    "color": {"field": "s", "type": "nominal", "title": null, "legend": {"strokeColor": "#444", "fillColor": "#ffffff"}, "scale": {"domain": ["Multi_CMDR","MR_MDR_untransformed","Multi_QMDR_FPC","Multi_QMDR_WPC","Multi_QMDR_WSPC","QMDR_Y1","QMDR_Y2","MR_MDR_transformed"], "range": ["#e3cbb8","#ee5560","#3a72c2","#7b6ad6","#4f84c0","#f4a52a","#f7c52e","#f2707c"]}},
    "shape": {"field": "s", "type": "nominal", "title": null, "scale": {"domain": ["Multi_CMDR","MR_MDR_untransformed","Multi_QMDR_FPC","Multi_QMDR_WPC","Multi_QMDR_WSPC","QMDR_Y1","QMDR_Y2","MR_MDR_transformed"], "range": ["square","circle","circle","M-1,0L1,0M0,-1L0,1","M-0.8,-0.8L0.8,0.8M-0.8,0.8L0.8,-0.8","diamond","triangle-down","triangle-up"]}},
    "fill": {"field": "s", "type": "nominal", "title": null, "scale": {"domain": ["Multi_CMDR","MR_MDR_untransformed","Multi_QMDR_FPC","Multi_QMDR_WPC","Multi_QMDR_WSPC","QMDR_Y1","QMDR_Y2","MR_MDR_transformed"], "range": ["transparent","transparent","#3a72c2","transparent","transparent","transparent","transparent","transparent"]}}}}
 ]},
{"title": "Multivariate gamma cor0, n400", "width": 185, "height": 164, "transform": [{"filter": "datum.p == 7"}],
 "encoding": {
  "x": {"field": "h", "type": "ordinal", "sort": null, "scale": {"type": "point", "padding": 0.24}, "axis": {"title": "Heritability", "labelAngle": 0}},
  "y": {"field": "v", "type": "quantitative", "scale": {"domain": [-0.04, 1.04], "nice": false, "zero": false}, "axis": {"title": "Hit ratio", "values": [0, 0.2, 0.4, 0.6, 0.8, 1], "format": "~g", "labelAngle": -90}}},
 "layer": [
  {"mark": {"type": "line", "strokeWidth": 1.6}, "encoding": {"stroke": {"field": "s", "type": "nominal", "legend": null, "scale": {"domain": ["Multi_CMDR","MR_MDR_untransformed","Multi_QMDR_FPC","Multi_QMDR_WPC","Multi_QMDR_WSPC","QMDR_Y1","QMDR_Y2","MR_MDR_transformed"], "range": ["#e3cbb8","#ee5560","#3a72c2","#7b6ad6","#4f84c0","#f4a52a","#f7c52e","#f2707c"]}}}},
  {"mark": {"type": "point", "filled": false, "size": 22, "strokeWidth": 1.2, "opacity": 1}, "encoding": {
    "color": {"field": "s", "type": "nominal", "title": null, "legend": {"strokeColor": "#444", "fillColor": "#ffffff"}, "scale": {"domain": ["Multi_CMDR","MR_MDR_untransformed","Multi_QMDR_FPC","Multi_QMDR_WPC","Multi_QMDR_WSPC","QMDR_Y1","QMDR_Y2","MR_MDR_transformed"], "range": ["#e3cbb8","#ee5560","#3a72c2","#7b6ad6","#4f84c0","#f4a52a","#f7c52e","#f2707c"]}},
    "shape": {"field": "s", "type": "nominal", "title": null, "scale": {"domain": ["Multi_CMDR","MR_MDR_untransformed","Multi_QMDR_FPC","Multi_QMDR_WPC","Multi_QMDR_WSPC","QMDR_Y1","QMDR_Y2","MR_MDR_transformed"], "range": ["square","circle","circle","M-1,0L1,0M0,-1L0,1","M-0.8,-0.8L0.8,0.8M-0.8,0.8L0.8,-0.8","diamond","triangle-down","triangle-up"]}},
    "fill": {"field": "s", "type": "nominal", "title": null, "scale": {"domain": ["Multi_CMDR","MR_MDR_untransformed","Multi_QMDR_FPC","Multi_QMDR_WPC","Multi_QMDR_WSPC","QMDR_Y1","QMDR_Y2","MR_MDR_transformed"], "range": ["transparent","transparent","#3a72c2","transparent","transparent","transparent","transparent","transparent"]}}}}
 ]},
{"title": "Multivariate gamma cor0.25, n400", "width": 185, "height": 164, "transform": [{"filter": "datum.p == 8"}],
 "encoding": {
  "x": {"field": "h", "type": "ordinal", "sort": null, "scale": {"type": "point", "padding": 0.24}, "axis": {"title": "Heritability", "labelAngle": 0}},
  "y": {"field": "v", "type": "quantitative", "scale": {"domain": [-0.04, 1.04], "nice": false, "zero": false}, "axis": {"title": "Hit ratio", "values": [0, 0.2, 0.4, 0.6, 0.8, 1], "format": "~g", "labelAngle": -90}}},
 "layer": [
  {"mark": {"type": "line", "strokeWidth": 1.6}, "encoding": {"stroke": {"field": "s", "type": "nominal", "legend": null, "scale": {"domain": ["Multi_CMDR","MR_MDR_untransformed","Multi_QMDR_FPC","Multi_QMDR_WPC","Multi_QMDR_WSPC","QMDR_Y1","QMDR_Y2","MR_MDR_transformed"], "range": ["#e3cbb8","#ee5560","#3a72c2","#7b6ad6","#4f84c0","#f4a52a","#f7c52e","#f2707c"]}}}},
  {"mark": {"type": "point", "filled": false, "size": 22, "strokeWidth": 1.2, "opacity": 1}, "encoding": {
    "color": {"field": "s", "type": "nominal", "title": null, "legend": {"strokeColor": "#444", "fillColor": "#ffffff"}, "scale": {"domain": ["Multi_CMDR","MR_MDR_untransformed","Multi_QMDR_FPC","Multi_QMDR_WPC","Multi_QMDR_WSPC","QMDR_Y1","QMDR_Y2","MR_MDR_transformed"], "range": ["#e3cbb8","#ee5560","#3a72c2","#7b6ad6","#4f84c0","#f4a52a","#f7c52e","#f2707c"]}},
    "shape": {"field": "s", "type": "nominal", "title": null, "scale": {"domain": ["Multi_CMDR","MR_MDR_untransformed","Multi_QMDR_FPC","Multi_QMDR_WPC","Multi_QMDR_WSPC","QMDR_Y1","QMDR_Y2","MR_MDR_transformed"], "range": ["square","circle","circle","M-1,0L1,0M0,-1L0,1","M-0.8,-0.8L0.8,0.8M-0.8,0.8L0.8,-0.8","diamond","triangle-down","triangle-up"]}},
    "fill": {"field": "s", "type": "nominal", "title": null, "scale": {"domain": ["Multi_CMDR","MR_MDR_untransformed","Multi_QMDR_FPC","Multi_QMDR_WPC","Multi_QMDR_WSPC","QMDR_Y1","QMDR_Y2","MR_MDR_transformed"], "range": ["transparent","transparent","#3a72c2","transparent","transparent","transparent","transparent","transparent"]}}}}
 ]},
{"title": "Multivariate gamma cor0.5, n400", "width": 185, "height": 164, "transform": [{"filter": "datum.p == 9"}],
 "encoding": {
  "x": {"field": "h", "type": "ordinal", "sort": null, "scale": {"type": "point", "padding": 0.24}, "axis": {"title": "Heritability", "labelAngle": 0}},
  "y": {"field": "v", "type": "quantitative", "scale": {"domain": [-0.04, 1.04], "nice": false, "zero": false}, "axis": {"title": "Hit ratio", "values": [0, 0.2, 0.4, 0.6, 0.8, 1], "format": "~g", "labelAngle": -90}}},
 "layer": [
  {"mark": {"type": "line", "strokeWidth": 1.6}, "encoding": {"stroke": {"field": "s", "type": "nominal", "legend": null, "scale": {"domain": ["Multi_CMDR","MR_MDR_untransformed","Multi_QMDR_FPC","Multi_QMDR_WPC","Multi_QMDR_WSPC","QMDR_Y1","QMDR_Y2","MR_MDR_transformed"], "range": ["#e3cbb8","#ee5560","#3a72c2","#7b6ad6","#4f84c0","#f4a52a","#f7c52e","#f2707c"]}}}},
  {"mark": {"type": "point", "filled": false, "size": 22, "strokeWidth": 1.2, "opacity": 1}, "encoding": {
    "color": {"field": "s", "type": "nominal", "title": null, "legend": {"strokeColor": "#444", "fillColor": "#ffffff"}, "scale": {"domain": ["Multi_CMDR","MR_MDR_untransformed","Multi_QMDR_FPC","Multi_QMDR_WPC","Multi_QMDR_WSPC","QMDR_Y1","QMDR_Y2","MR_MDR_transformed"], "range": ["#e3cbb8","#ee5560","#3a72c2","#7b6ad6","#4f84c0","#f4a52a","#f7c52e","#f2707c"]}},
    "shape": {"field": "s", "type": "nominal", "title": null, "scale": {"domain": ["Multi_CMDR","MR_MDR_untransformed","Multi_QMDR_FPC","Multi_QMDR_WPC","Multi_QMDR_WSPC","QMDR_Y1","QMDR_Y2","MR_MDR_transformed"], "range": ["square","circle","circle","M-1,0L1,0M0,-1L0,1","M-0.8,-0.8L0.8,0.8M-0.8,0.8L0.8,-0.8","diamond","triangle-down","triangle-up"]}},
    "fill": {"field": "s", "type": "nominal", "title": null, "scale": {"domain": ["Multi_CMDR","MR_MDR_untransformed","Multi_QMDR_FPC","Multi_QMDR_WPC","Multi_QMDR_WSPC","QMDR_Y1","QMDR_Y2","MR_MDR_transformed"], "range": ["transparent","transparent","#3a72c2","transparent","transparent","transparent","transparent","transparent"]}}}}
 ]}
],
"config": {
 "font": "Liberation Sans",
 "view": {"stroke": "#444", "strokeWidth": 1},
 "title": {"fontSize": 7.8, "fontWeight": "bold", "font": "Liberation Sans", "offset": 6, "color": "#111"},
 "axis": {"domain": false, "grid": false, "tickSize": 4, "tickColor": "#333", "labelFont": "Liberation Sans", "labelFontSize": 6.5, "labelColor": "#222", "titleFont": "Liberation Sans", "titleFontSize": 6.5, "titleFontWeight": "normal", "titleColor": "#222"},
 "axisX": {"labelPadding": 1.5, "titlePadding": 11},
 "axisY": {"labelAlign": "center", "labelBaseline": "bottom", "labelPadding": 4, "titlePadding": 6.5},
 "legend": {"orient": "bottom-right", "offset": 0, "strokeColor": "#444", "strokeWidth": 1, "fillColor": "#ffffff", "padding": 2.5, "labelFontSize": 5.8, "labelFont": "Liberation Sans", "labelColor": "#222", "symbolSize": 18, "symbolStrokeWidth": 1, "rowPadding": -1.5, "labelOffset": 4, "labelLimit": 200, "cornerRadius": 0}
}
}
